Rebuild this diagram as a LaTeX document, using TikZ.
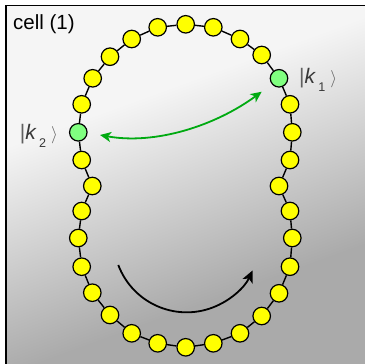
\documentclass[tikz,border=0pt]{standalone}
\usepackage{fontspec}
\setmainfont{Liberation Sans}
\usetikzlibrary{arrows.meta}
\definecolor{beadyellow}{HTML}{FFFF00}
\definecolor{beadgreen}{HTML}{80FF80}
\definecolor{arrowgreen}{HTML}{00AA11}
\definecolor{bgtop}{HTML}{F5F5F5}
\definecolor{bgbot}{HTML}{AAAAAA}
\definecolor{labelgray}{HTML}{383838}
\newcommand\myket[1]{{\fontsize{21}{21}\selectfont\textcolor{labelgray!80}{|}\textit{k}}\hspace{2.3pt}\raisebox{-7.7pt}{\fontsize{12.6}{12.6}\selectfont #1}\hspace{5pt}{\fontsize{16}{16}\selectfont\textcolor{labelgray!80}{$\rangle$}}}
\begin{document}
\begin{tikzpicture}[x=1pt,y=-1pt,
  bead/.style={circle,draw=black,line width=1.2pt,fill=beadyellow,minimum size=17.5pt,inner sep=0pt},
  greenbead/.style={bead,fill=beadgreen},
  chainline/.style={line width=1.4pt,black},
  ketlabel/.style={anchor=base west,inner sep=0pt,text=labelgray},
  greenarrow/.style={arrowgreen,line width=1.8pt,{Stealth[length=11pt,width=10pt,inset=3pt]}-{Stealth[length=11pt,width=10pt,inset=3pt]}},
  blackarrow/.style={black,line width=1.8pt,-{Stealth[length=12pt,width=11pt,inset=3pt]}}]
\useasboundingbox (0,0) rectangle (364,364);
% background
\begin{scope}
\clip (6.3,5.5) rectangle (400,400);
\begin{scope}[transform canvas={rotate around={20:(182,182)}}]
\fill[bgtop] (-400,-400) rectangle (800,89.5);
\shade[top color=bgtop,bottom color=bgbot] (-400,88.7) rectangle (800,303.7);
\fill[bgbot] (-400,303) rectangle (800,800);
\end{scope}
\end{scope}
\draw[line width=1.8pt] (6.3,400) -- (6.3,5.5) -- (400,5.5);
\node[anchor=base west,inner sep=0pt,font=\fontsize{20.5}{20.5}\selectfont] (title) at (13,29.5) {cell (1)};
% beads
\foreach \x/\y [count=\i] in {185.7/24.3, 213.3/27.3, 240/39, 261.7/55, 279/78.3, 290/104.3, 292.3/132.3, 290/160, 279/186, 290/211, 292.3/238, 290/266.7, 279/293.3, 261.7/316, 240/333.3, 213.3/343.3, 185.7/347.3, 157.7/343.3, 131.7/333.3, 110/315, 92.3/292.7, 81.7/266.7, 78.3/238, 81.7/211, 92.3/186, 81.7/160, 78.3/132.3, 81.7/104.3, 92.7/78.3, 110/56.7, 131.7/39, 157.7/27.3}
{
  \ifnum\i=5 \node[greenbead] (b\i) at (\x,\y) {};
  \else\ifnum\i=27 \node[greenbead] (b\i) at (\x,\y) {};
  \else \node[bead] (b\i) at (\x,\y) {};
  \fi\fi
}
\foreach \i [evaluate=\i as \j using {int(mod(\i,32)+1)}] in {1,...,32}
  \draw[chainline] (b\i) -- (b\j);
% labels
\node[ketlabel] (k1) at (299,83.5) {\myket{1}};
\node[ketlabel] (k2) at (19.7,139.5) {\myket{2}};
% green arrow
\coordinate (g1) at (100,135);
\coordinate (g2) at (261.7,91.7);
\draw[greenarrow] (g1) .. controls (155,145) and (215,126) .. (g2);
% black arrow
\coordinate (bs) at (118.3,265);
\draw[blackarrow] (bs) arc[start angle=159.4,end angle=25.2,radius=73];
\end{tikzpicture}
\end{document}
